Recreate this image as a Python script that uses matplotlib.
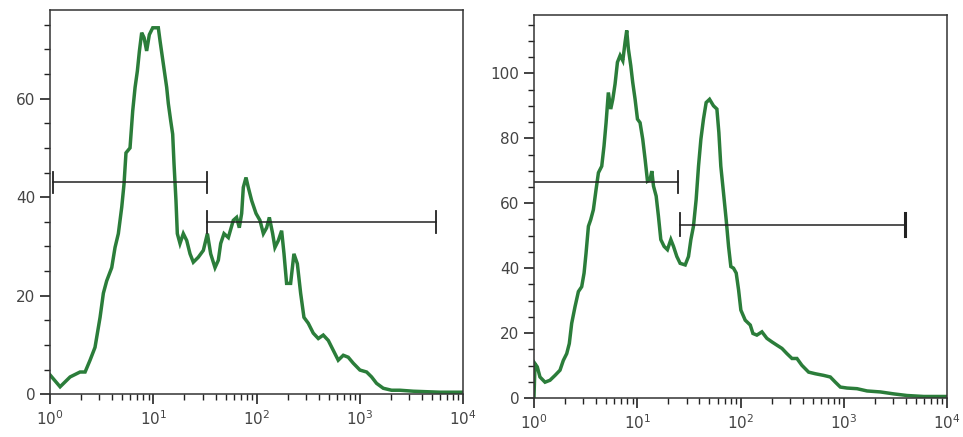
import numpy as np
import matplotlib
matplotlib.use("Agg")
import matplotlib.pyplot as plt
from matplotlib.ticker import MultipleLocator, LogLocator, NullFormatter

# left histogram: log10 of fluorescence and event counts
left_logx = [0.0, 0.097, 0.194, 0.29, 0.339, 0.387, 0.435, 0.484, 0.516, 0.548,
             0.597, 0.629, 0.661, 0.694, 0.716, 0.735, 0.774, 0.8, 0.823, 0.845,
             0.865, 0.887, 0.91, 0.935, 0.961, 0.994, 1.048, 1.065, 1.097, 1.129,
             1.145, 1.168, 1.187, 1.2, 1.219, 1.232, 1.258, 1.29, 1.323, 1.355,
             1.387, 1.435, 1.484, 1.523, 1.555, 1.597, 1.629, 1.652, 1.684, 1.726,
             1.774, 1.806, 1.832, 1.855, 1.871, 1.897, 1.919, 1.952, 1.994, 2.032,
             2.065, 2.097, 2.123, 2.155, 2.177, 2.21, 2.242, 2.265, 2.29, 2.329,
             2.361, 2.394, 2.426, 2.458, 2.5, 2.548, 2.597, 2.645, 2.694, 2.742,
             2.79, 2.839, 2.887, 2.935, 3.0, 3.065, 3.113, 3.161, 3.226, 3.306,
             3.387, 3.516, 3.645, 3.774, 3.984]
left_counts = [3.9, 1.5, 3.5, 4.5, 4.5, 6.9, 9.5, 15.6, 20.5, 23.0,
               25.7, 29.8, 32.6, 38.0, 42.7, 49.0, 50.0, 57.5, 62.3, 65.6,
               69.7, 73.4, 72.4, 69.7, 73.0, 74.4, 74.4, 71.7, 67.0, 62.3,
               59.0, 55.5, 52.8, 46.8, 39.3, 32.6, 30.6, 32.6, 31.2, 28.5,
               26.8, 27.8, 29.2, 32.6, 28.5, 25.7, 27.2, 30.6, 32.6, 31.8,
               35.3, 35.9, 33.8, 36.7, 42.0, 44.0, 42.0, 39.3, 36.7, 35.3,
               32.6, 33.8, 35.9, 32.6, 29.8, 31.2, 33.2, 28.5, 22.5, 22.5,
               28.5, 26.5, 20.5, 15.6, 14.4, 12.4, 11.3, 12.0, 10.9, 8.9,
               6.9, 7.9, 7.5, 6.3, 4.9, 4.5, 3.5, 2.2, 1.2, 0.8,
               0.8, 0.6, 0.5, 0.4, 0.4]

# right histogram
right_logx = [0.0, 0.01, 0.032, 0.058, 0.107, 0.155, 0.204, 0.252, 0.284, 0.317,
              0.342, 0.365, 0.397, 0.43, 0.462, 0.485, 0.504, 0.527, 0.549, 0.575,
              0.601, 0.624, 0.656, 0.678, 0.698, 0.72, 0.743, 0.763, 0.785, 0.808,
              0.834, 0.86, 0.882, 0.898, 0.914, 0.937, 0.956, 0.979, 1.002, 1.027,
              1.053, 1.076, 1.099, 1.124, 1.141, 1.157, 1.183, 1.205, 1.228, 1.26,
              1.292, 1.325, 1.351, 1.383, 1.415, 1.464, 1.496, 1.519, 1.544, 1.57,
              1.593, 1.616, 1.641, 1.667, 1.7, 1.738, 1.771, 1.79, 1.809, 1.835,
              1.861, 1.884, 1.906, 1.932, 1.958, 1.981, 2.003, 2.045, 2.094, 2.12,
              2.158, 2.207, 2.255, 2.304, 2.352, 2.401, 2.449, 2.498, 2.546, 2.594,
              2.659, 2.724, 2.804, 2.869, 2.918, 2.966, 3.031, 3.128, 3.225, 3.354,
              3.483, 3.612, 3.774, 3.994]
right_counts = [0.3, 10.6, 9.6, 6.5, 4.9, 5.5, 7.0, 8.6, 11.6, 13.7,
                16.8, 23.0, 28.1, 32.8, 34.3, 38.5, 44.6, 52.9, 54.9, 58.0,
                64.2, 69.4, 71.4, 77.6, 84.8, 94.1, 89.0, 92.0, 96.7, 103.4,
                105.5, 103.9, 109.6, 113.2, 107.5, 102.4, 97.2, 92.0, 85.9, 84.8,
                79.7, 73.5, 66.8, 67.3, 69.9, 65.3, 62.2, 56.0, 48.8, 46.7,
                45.7, 48.8, 46.7, 43.6, 41.5, 41.0, 43.6, 48.8, 52.9, 61.1,
                71.4, 79.7, 85.9, 91.0, 92.0, 90.0, 89.0, 81.8, 71.4, 63.2,
                54.9, 46.7, 40.5, 40.0, 38.5, 33.3, 27.1, 24.0, 22.5, 19.9,
                19.4, 20.4, 18.4, 17.3, 16.3, 15.3, 13.7, 12.2, 12.2, 10.1,
                8.0, 7.5, 7.0, 6.5, 4.9, 3.4, 3.1, 2.9, 2.2, 1.9,
                1.3, 0.8, 0.5, 0.5]

# gates: (log10 start, log10 end, height)
left_gates = [(0.032, 1.523, 43.0), (1.523, 3.735, 34.9)]
right_gates = [(0.0, 1.399, 66.5), (1.409, 3.59, 53.4)]

green = "#2b7d3a"


def draw_panel(ax, logx, counts, gates, ymax, cap):
    ax.plot(10 ** np.array(logx), counts, color=green, lw=2.5,
            solid_joinstyle="miter")
    for i, (x0, x1, h) in enumerate(gates):
        ax.plot([10 ** x0, 10 ** x1], [h, h], color="#222222", lw=1.1)
        for xe in (x0, x1):
            if xe > 0.01:
                w = 2.2 if (i == 1 and xe == x1 and ymax > 100) else 1.3
                ax.plot([10 ** xe, 10 ** xe], [h - cap, h + cap], color="#222222", lw=w)
    ax.set_xscale("log")
    ax.set_xlim(1, 1e4)
    ax.set_ylim(0, ymax)
    ax.xaxis.set_major_locator(LogLocator(base=10, numticks=10))
    ax.xaxis.set_minor_locator(LogLocator(base=10, subs=np.arange(2, 10), numticks=20))
    ax.xaxis.set_minor_formatter(NullFormatter())
    ax.yaxis.set_major_locator(MultipleLocator(20))
    ax.yaxis.set_minor_locator(MultipleLocator(5))
    ax.tick_params(axis="both", which="major", direction="out", length=7, width=1.2,
                   labelsize=11, labelcolor="#444444", color="#222222")
    ax.tick_params(axis="both", which="minor", direction="out", length=4, width=1.0,
                   color="#222222")
    ax.tick_params(axis="x", pad=4)
    for s in ax.spines.values():
        s.set_color("#333333")
        s.set_linewidth(1.1)


fig = plt.figure(figsize=(9.63, 4.37), dpi=100)
ax1 = fig.add_axes([0.052, 0.098, 0.429, 0.879])
ax2 = fig.add_axes([0.5545, 0.089, 0.429, 0.877])

draw_panel(ax1, left_logx, left_counts, left_gates, 78, 2.2)
draw_panel(ax2, right_logx, right_counts, right_gates, 118, 3.5)

fig.savefig("out.png", dpi=100)
